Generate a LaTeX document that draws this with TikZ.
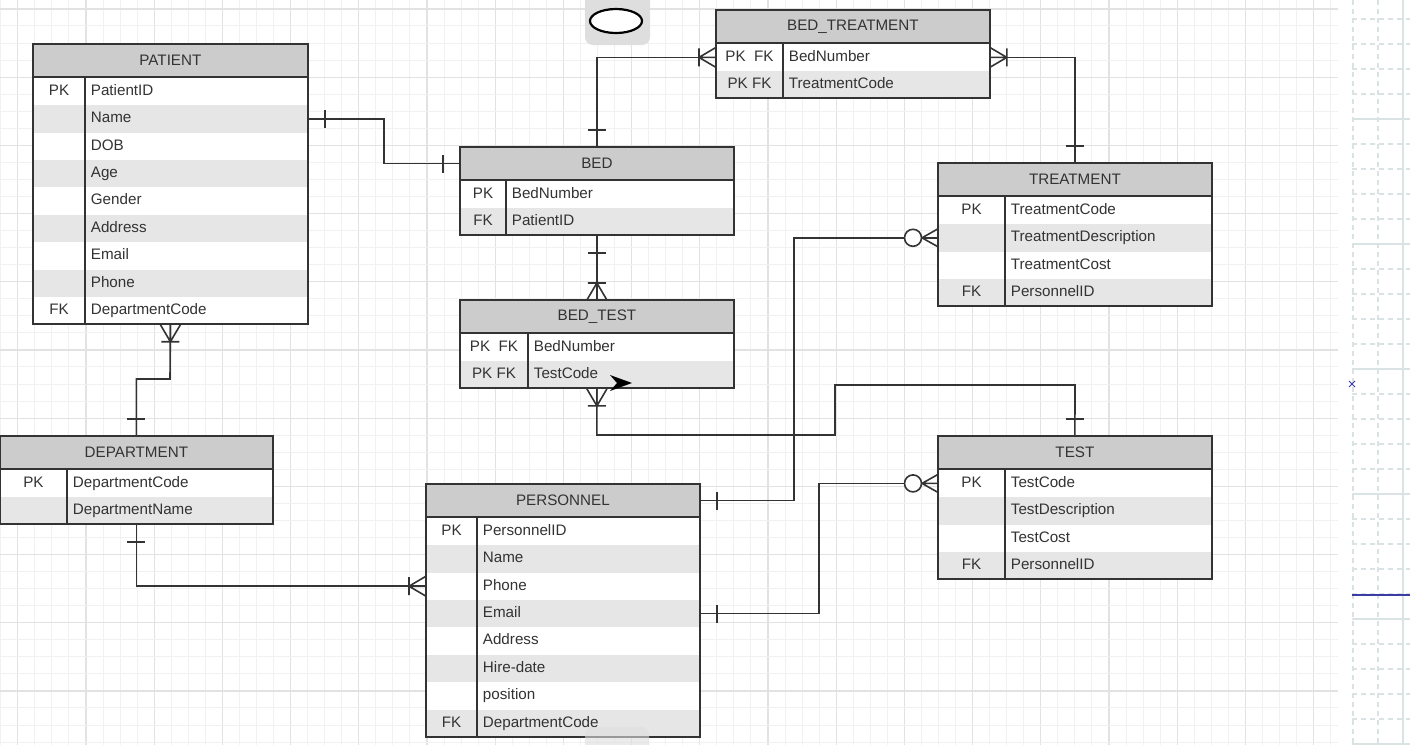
\documentclass[tikz,border=0pt]{standalone}
\usepackage{fontspec}
\setmainfont{Liberation Sans}
\usetikzlibrary{calc}

\definecolor{ink}{HTML}{333333}
\definecolor{headgrey}{HTML}{CCCCCC}
\definecolor{rowgrey}{HTML}{E6E6E6}
\definecolor{gridlight}{HTML}{F1F1F1}
\definecolor{griddark}{HTML}{E2E2E2}
\definecolor{panelline}{HTML}{D9E3E3}
\definecolor{markblue}{HTML}{3B3BA8}

\tikzset{
  erfont/.style={font=\fontsize{7.6}{9}\selectfont},
  tblhead/.style={fill=headgrey, text=ink, inner sep=0pt, minimum height=16.25pt, erfont},
  tblrow/.style={inner sep=0pt, minimum height=13.7pt},
  keytext/.style={text=ink, inner sep=0pt, text height=5.4pt, text depth=1.5pt, erfont},
  fieldtext/.style={text=ink, inner sep=0pt, anchor=west, text height=5.4pt, text depth=1.5pt, erfont},
  tblline/.style={draw=ink, line width=1pt},
  conn/.style={draw=ink, line width=0.8pt},
  gridmin/.style={draw=gridlight, line width=0.5pt},
  gridmaj/.style={draw=griddark, line width=0.6pt},
  onebar/.pic={\draw[conn] (17,-9) -- (17,9);},
  crowbar/.pic={\draw[conn] (0,-10) -- (17,0) -- (0,10) (0,0) -- (17,0) (17,-9) -- (17,9);},
  zerocrow/.pic={\draw[conn] (0,-9) -- (16,0) -- (0,9) (0,0) -- (16,0);
                 \draw[conn, fill=white] (25,0) circle (8.5);}
}

% #1 name, #2 top left, #3 width, #4 key column, #5 title, #6 rows
\newcommand{\ertable}[6]{%
  \node[tblhead, minimum width=#3*0.5pt, anchor=north west] (#1) at (#2) {#5};
  \foreach \k/\f [count=\i] in {#6}{
    \ifodd\i \def\rowfill{white}\else \def\rowfill{rowgrey}\fi
    \node[tblrow, fill=\rowfill, minimum width=#3*0.5pt, anchor=north west] (#1-\i)
      at ($(#1.south west)+(0,{27.4*(\i-1)})$) {};
    \node[keytext] (#1-\i-k) at ($(#1-\i.west)+({#4/2},0)$) {\k};
    \node[fieldtext] (#1-\i-f) at ($(#1-\i.west)+({#4+5.5},0)$) {\f};
    \xdef\nrows{\i}
  }
  \draw[tblline] (#1.north west) rectangle ($(#1.south east)+(0,{27.4*\nrows})$);
  \draw[tblline] (#1.south west) -- (#1.south east);
  \draw[tblline] ($(#1.south west)+(#4,0)$) -- ++(0,{27.4*\nrows});
}

\begin{document}
\begin{tikzpicture}[x=0.5pt, y=-0.5pt]
  \useasboundingbox (0,0) rectangle (1410,745);
  \begin{scope}
    \clip (0,0) rectangle (1410,745);
    % canvas grid
    \foreach \j in {0,...,78}{
      \pgfmathsetmacro\gx{0.75+17.05*\j}
      \pgfmathtruncatemacro\m{mod(\j,4)}
      \ifnum\m=1 \draw[gridmaj] (\gx,0) -- (\gx,745); \else \draw[gridmin] (\gx,0) -- (\gx,745); \fi
    }
    \foreach \j in {0,...,43}{
      \pgfmathsetmacro\gy{8.9+17.05*\j}
      \pgfmathtruncatemacro\m{mod(\j,4)}
      \ifnum\m=0 \draw[gridmaj] (0,\gy) -- (1338,\gy); \else \draw[gridmin] (0,\gy) -- (1338,\gy); \fi
    }
    % side panel
    \fill[white] (1340,0) rectangle (1410,745);
    \foreach \y in {-6,19,...,744}{
      \pgfmathtruncatemacro\m{mod(\y+6,125)}
      \ifnum\m=0 \draw[panelline, line width=0.6pt] (1352,\y) -- (1410,\y);
      \else \draw[panelline, line width=0.6pt, dash pattern=on 2.5pt off 2pt] (1352,\y) -- (1410,\y); \fi
    }
    \draw[panelline, line width=0.6pt, dash pattern=on 2.5pt off 2pt] (1353,0) -- (1353,745) (1378,0) -- (1378,745);
    \draw[panelline, line width=0.6pt] (1403,0) -- (1403,745);
    \draw[markblue, line width=0.5pt] (1349,381) -- (1355,387) (1349,387) -- (1355,381);
    \draw[markblue, line width=0.9pt] (1352,595) -- (1410,595);
    % shape handle at the top
    \fill[black!13, rounded corners=4pt] (585,-10) rectangle (650,45);
    \draw[black, line width=1.1pt, fill=white] (616,21) ellipse (26 and 12);
  \end{scope}

  \ertable{patient}{33,44}{274}{52}{PATIENT}{PK/PatientID, /Name, /DOB, /Age, /Gender, /Address, /Email, /Phone, FK/DepartmentCode}
  \ertable{bed}{460,147}{273}{46}{BED}{PK/BedNumber, FK/PatientID}
  \ertable{bedtest}{460,300}{273}{68}{BED\_TEST}{PK~~FK/BedNumber, PK~FK/TestCode}
  \ertable{bedtreat}{716,10}{273}{67}{BED\_TREATMENT}{PK~~FK/BedNumber, PK~FK/TreatmentCode}
  \ertable{treat}{938,163}{273}{67}{TREATMENT}{PK/TreatmentCode, /TreatmentDescription, /TreatmentCost, FK/PersonnelID}
  \ertable{test}{938,436}{273}{67}{TEST}{PK/TestCode, /TestDescription, /TestCost, FK/PersonnelID}
  \ertable{dept}{0,436}{272}{67}{DEPARTMENT}{PK/DepartmentCode, /DepartmentName}
  \ertable{personnel}{426,484}{273}{51}{PERSONNEL}{PK/PersonnelID, /Name, /Phone, /Email, /Address, /Hire-date, /position, FK/DepartmentCode}

  % relationships
  \draw[conn] (patient-2.east) -| ($(patient-2.east)!0.5!(bed.west)$) |- (bed.west);
  \draw[conn] (bed.north) |- (bedtreat-1.west);
  \draw[conn] (treat.north) |- (bedtreat-1.east);
  \draw[conn] (bed-2.south) -- (bedtest.north);
  \draw[conn] (bedtest-2.south) |- (835,435) |- (1075,385) -- (test.north);
  \draw[conn] (dept.north) |- (170,379) -- (patient-9.south);
  \draw[conn] (dept-2.south) |- (personnel-3.west);
  \draw[conn] (personnel.east) -- ++(94,0) |- (treat-2.west);
  \draw[conn] (personnel-4.east) -- ++(119,0) |- (test-1.west);

  \pic at (patient-2.east) {onebar};
  \pic[rotate=180] at (bed.west) {onebar};
  \pic[rotate=90] at (bed.north) {onebar};
  \pic[rotate=90] at (treat.north) {onebar};
  \pic[rotate=-90] at (bed-2.south) {onebar};
  \pic[rotate=90] at (test.north) {onebar};
  \pic[rotate=90] at (dept.north) {onebar};
  \pic[rotate=-90] at (dept-2.south) {onebar};
  \pic at (personnel.east) {onebar};
  \pic at (personnel-4.east) {onebar};
  \pic[rotate=180] at (bedtreat-1.west) {crowbar};
  \pic at (bedtreat-1.east) {crowbar};
  \pic[rotate=90] at (bedtest.north) {crowbar};
  \pic[rotate=-90] at (bedtest-2.south) {crowbar};
  \pic[rotate=-90] at (patient-9.south) {crowbar};
  \pic[rotate=180] at (personnel-3.west) {crowbar};
  \pic[rotate=180] at (treat-2.west) {zerocrow};
  \pic[rotate=180] at (test-1.west) {zerocrow};

  % pointer left on the canvas
  \fill[black] (610,375) -- (632,383) -- (610,391) -- (617,383) -- cycle;
  \begin{scope}
    \clip (0,0) rectangle (1410,745);
    \fill[black!13, opacity=0.6, rounded corners=4pt] (585,727) rectangle (649,760);
  \end{scope}
\end{tikzpicture}
\end{document}
